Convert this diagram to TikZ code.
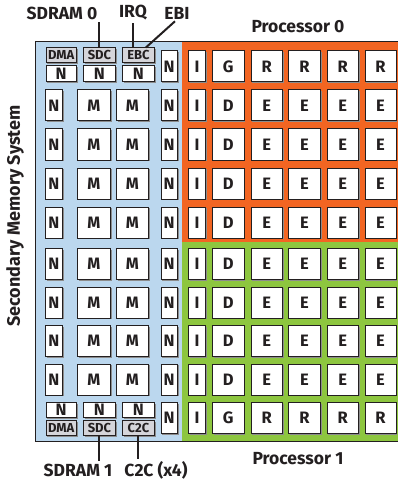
\documentclass[tikz,border=0pt]{standalone}
\usepackage{fontspec}
\setmainfont{Fira Sans}
\definecolor{memblue}{HTML}{BBD7EE}
\definecolor{procorange}{HTML}{F26522}
\definecolor{procgreen}{HTML}{8DC63F}
\definecolor{ctrlgray}{HTML}{D5D5DA}
\definecolor{ink}{HTML}{231F20}
\tikzset{
  cell/.style={draw=ink, line width=0.9pt, fill=white, inner sep=0pt, text=ink,
    font=\bfseries\fontsize{16.5}{16.5}\selectfont,
    preaction={fill=black!45, transform canvas={shift={(1.2pt,-1.2pt)}}}},
  ctrl/.style={cell, fill=ctrlgray, font=\bfseries\fontsize{13}{13}\selectfont},
  lbl/.style={font=\bfseries\fontsize{17.5}{17.5}\selectfont, text=ink, inner sep=0pt},
  wire/.style={draw=ink, line width=2pt},
}
\newcommand\cbox[7]{\node[#1, anchor=north west, minimum width={(#4)-(#2)}, minimum height={(#5)-(#3)}] (#6) at (#2,#3) {#7};}
\begin{document}
\begin{tikzpicture}[x=1pt,y=-1pt]
\useasboundingbox (0,0) rectangle (398,481);
% regions
\fill[memblue] (35.5,42) rectangle (182,441);
\fill[procorange] (182,42) rectangle (398,242);
\fill[procgreen] (182,242) rectangle (398,441);
\draw[ink, line width=1pt] (398,42) -- (35.5,42) -- (35.5,441) -- (398,441);
% top controllers
\cbox{ctrl}{45.5}{47.5}{76}{62.5}{dma0}{DMA}
\cbox{ctrl}{83}{47.5}{115}{62.5}{sdc0}{SDC}
\cbox{ctrl}{122}{47.5}{154}{62.5}{ebc0}{EBC}
\cbox{cell}{45.5}{65.5}{76}{81}{ta}{N}
\cbox{cell}{83}{65.5}{115}{81}{tb}{N}
\cbox{cell}{122}{65.5}{154}{81}{tc}{N}
% bottom controllers
\cbox{cell}{45.5}{402}{76}{417}{ba}{N}
\cbox{cell}{83}{402}{115}{417}{bb}{N}
\cbox{cell}{122}{402}{154}{417}{bc}{N}
\cbox{ctrl}{45.5}{420}{76}{435}{dma1}{DMA}
\cbox{ctrl}{83}{420}{115}{435}{sdc1}{SDC}
\cbox{ctrl}{122}{420}{154}{435}{c2cb}{C2C}
% right N column and I column, all rows
\foreach \r/\yt/\yb in {0/50.5/81.5,1/89.5/120.5,2/128.5/159.5,3/167.5/198.5,4/206.5/237.5,5/248/279,6/286.5/317.5,7/325/356,8/363.5/394.5,9/402/433}{
  \cbox{cell}{160.5}{\yt}{177}{\yb}{rn\r}{N}
  \cbox{cell}{188}{\yt}{205}{\yb}{pi\r}{I}
}
% memory rows and D/E rows
\foreach \r/\yt/\yb in {1/89.5/120.5,2/128.5/159.5,3/167.5/198.5,4/206.5/237.5,5/248/279,6/286.5/317.5,7/325/356,8/363.5/394.5}{
  \cbox{cell}{45}{\yt}{62}{\yb}{ln\r}{N}
  \cbox{cell}{77}{\yt}{110}{\yb}{ma\r}{M}
  \cbox{cell}{116}{\yt}{148}{\yb}{mb\r}{M}
  \cbox{cell}{212}{\yt}{243.5}{\yb}{pd\r}{D}
  \cbox{cell}{250.5}{\yt}{282}{\yb}{pe\r a}{E}
  \cbox{cell}{288}{\yt}{320}{\yb}{pe\r b}{E}
  \cbox{cell}{326.5}{\yt}{358}{\yb}{pe\r c}{E}
  \cbox{cell}{364.5}{\yt}{395.5}{\yb}{pe\r d}{E}
}
% G/R rows
\foreach \r/\yt/\yb in {0/50.5/81.5,9/402/433}{
  \cbox{cell}{212}{\yt}{243.5}{\yb}{pg\r}{G}
  \cbox{cell}{250.5}{\yt}{282}{\yb}{pr\r a}{R}
  \cbox{cell}{288}{\yt}{320}{\yb}{pr\r b}{R}
  \cbox{cell}{326.5}{\yt}{358}{\yb}{pr\r c}{R}
  \cbox{cell}{364.5}{\yt}{395.5}{\yb}{pr\r d}{R}
}
% labels
\node[lbl] (sdram0) at (62,13) {SDRAM 0};
\node[lbl] (irq) at (133,13) {IRQ};
\node[lbl] (ebi) at (177,13) {EBI};
\node[lbl] (p0) at (298,27) {Processor 0};
\node[lbl] (p1) at (298,459) {Processor 1};
\node[lbl] (sdram1) at (78,470) {SDRAM 1};
\node[lbl] (c2c) at (156,470) {C2C (x4)};
\node[lbl, rotate=90, font=\bfseries\fontsize{18}{18}\selectfont] (sms) at (15,216) {Secondary Memory System};
% wires
\draw[wire] (sdc0.north) -- ([yshift=-2pt]sdc0.north |- sdram0.south);
\draw[wire] (irq.south |- ebc0.north) -- ([yshift=-2pt]irq.south);
\draw[wire] ([xshift=-9pt]ebc0.north east) -- ([xshift=-2pt,yshift=-2pt]ebi.south);
\draw[wire] (sdc1.south) -- ([yshift=2pt]sdc1.south |- sdram1.north);
\draw[wire] (c2cb.south) -- ([yshift=2pt]c2cb.south |- c2c.north);
\end{tikzpicture}
\end{document}
